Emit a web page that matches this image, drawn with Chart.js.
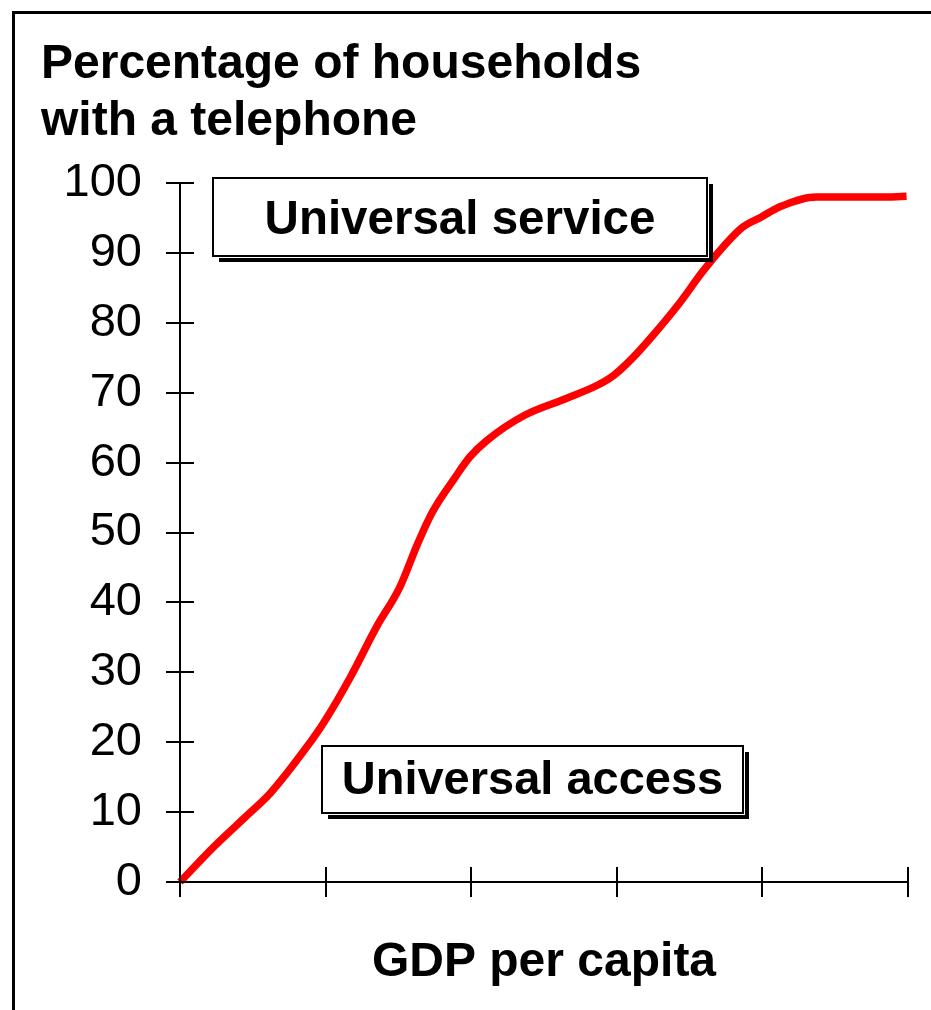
<!DOCTYPE html>
<html lang="en">
<head>
<meta charset="UTF-8">
<title>Percentage of households with a telephone</title>
<script src="https://cdn.jsdelivr.net/npm/chart.js"></script>
<style>
  html, body { margin: 0; padding: 0; background: #fff; }
  #wrap { width: 931px; height: 1010px; }
</style>
</head>
<body>
<div id="wrap"><canvas id="phoneChart" width="931" height="1010"></canvas></div>
<script>
// GDP per capita (unlabelled axis units) against household telephone share (%)
const gdpPerCapita = [0, 0.23, 0.48, 0.62, 0.87, 0.99, 1.17, 1.35, 1.51, 1.63, 1.73, 1.89, 1.99, 2.11,
  2.37, 2.63, 2.87, 2.98, 3.11, 3.24, 3.43, 3.60, 3.86, 3.99, 4.12, 4.37, 4.87, 4.99];
const householdsWithPhone = [0, 5.0, 9.9, 12.7, 19.3, 22.9, 29.3, 36.5, 42.2, 48.3, 52.8, 57.9, 60.8, 63.2,
  66.8, 69.0, 71.1, 72.5, 75.0, 78.0, 82.8, 87.6, 93.6, 95.1, 96.6, 98.0, 98.0, 98.1];
const xTickValues = [0, 1, 2, 3, 4, 5];
const yTickValues = [0, 10, 20, 30, 40, 50, 60, 70, 80, 90, 100];
const titleLines = ['Percentage of households', 'with a telephone'];
const xAxisTitle = 'GDP per capita';
const boxLabels = ['Universal service', 'Universal access'];

const FONT = '"Liberation Sans", Arial, sans-serif';

// boxes placed in data units so they follow the scales
const boxes = [
  { text: boxLabels[0], x0: 0.226, x1: 3.621, y0: 100.7, y1: 89.6, size: 47.5, dy: 4 },
  { text: boxLabels[1], x0: 0.974, x1: 3.868, y0: 19.5, y1: 9.8, size: 47, dy: 2 }
];

const decorations = {
  id: 'decorations',
  afterDatasetsDraw(chart) {
    const { ctx, scales: { x, y } } = chart;
    ctx.save();

    // frame round the page (only left and top edges show)
    ctx.strokeStyle = '#000';
    ctx.lineWidth = 3;
    ctx.beginPath();
    ctx.moveTo(13.5, 1010);
    ctx.lineTo(13.5, 12.5);
    ctx.lineTo(935, 12.5);
    ctx.stroke();

    // axes with crossing ticks
    const x0 = x.getPixelForValue(0), xEnd = x.getPixelForValue(5);
    const y0 = y.getPixelForValue(0), yTop = y.getPixelForValue(100);
    ctx.lineWidth = 2;
    ctx.beginPath();
    ctx.moveTo(x0, yTop);
    ctx.lineTo(x0, y0);
    ctx.lineTo(xEnd + 1, y0);
    yTickValues.forEach(v => {
      const py = Math.round(y.getPixelForValue(v));
      ctx.moveTo(x0 - 14, py);
      ctx.lineTo(x0 + 14, py);
    });
    xTickValues.forEach(v => {
      const px = Math.round(x.getPixelForValue(v));
      ctx.moveTo(px, y0 - 15);
      ctx.lineTo(px, y0 + 15);
    });
    ctx.stroke();

    // boxed labels with drop shadow
    boxes.forEach(b => {
      const bx = Math.round(x.getPixelForValue(b.x0));
      const by = Math.round(y.getPixelForValue(b.y0));
      const bw = Math.round(x.getPixelForValue(b.x1)) - bx;
      const bh = Math.round(y.getPixelForValue(b.y1)) - by;
      ctx.fillStyle = '#000';
      ctx.fillRect(bx + 6, by + 6, bw, bh);
      ctx.fillStyle = '#fff';
      ctx.fillRect(bx - 1, by - 1, bw + 3, bh + 3);
      ctx.strokeStyle = '#000';
      ctx.lineWidth = 2;
      ctx.strokeRect(bx, by, bw, bh);
      ctx.fillStyle = '#000';
      ctx.font = 'bold ' + b.size + 'px ' + FONT;
      ctx.textAlign = 'center';
      ctx.textBaseline = 'middle';
      ctx.fillText(b.text, bx + bw / 2, by + bh / 2 + b.dy);
    });

    // titles
    ctx.fillStyle = '#000';
    ctx.font = 'bold 48px ' + FONT;
    ctx.textAlign = 'left';
    ctx.textBaseline = 'alphabetic';
    ctx.fillText(titleLines[0], 41, 78);
    ctx.fillText(titleLines[1], 41, 135);
    ctx.textAlign = 'center';
    ctx.fillText(xAxisTitle, (x0 + xEnd) / 2, 976);

    ctx.restore();
  }
};

new Chart(document.getElementById('phoneChart'), {
  type: 'line',
  data: {
    datasets: [{
      data: gdpPerCapita.map((g, i) => ({ x: g, y: householdsWithPhone[i] })),
      borderColor: '#ff0000',
      borderWidth: 7.5,
      pointRadius: 0,
      cubicInterpolationMode: 'monotone',
      clip: false
    }]
  },
  options: {
    responsive: false,
    animation: false,
    events: [],
    layout: { padding: { left: 0, top: 183, right: 23, bottom: 128 } },
    plugins: { legend: { display: false }, tooltip: { enabled: false }, title: { display: false } },
    scales: {
      x: {
        type: 'linear', min: 0, max: 5,
        grid: { display: false, drawTicks: false },
        border: { display: false },
        ticks: { display: false },
        afterFit: s => { s.height = 0; }
      },
      y: {
        min: 0, max: 100,
        grid: { display: false, drawTicks: false },
        border: { display: false },
        afterBuildTicks: s => { s.ticks = yTickValues.map(v => ({ value: v })); },
        ticks: { color: '#000', padding: 38, font: { family: FONT, size: 47 } },
        afterFit: s => { s.width = 180; }
      }
    }
  },
  plugins: [decorations]
});
</script>
</body>
</html>
